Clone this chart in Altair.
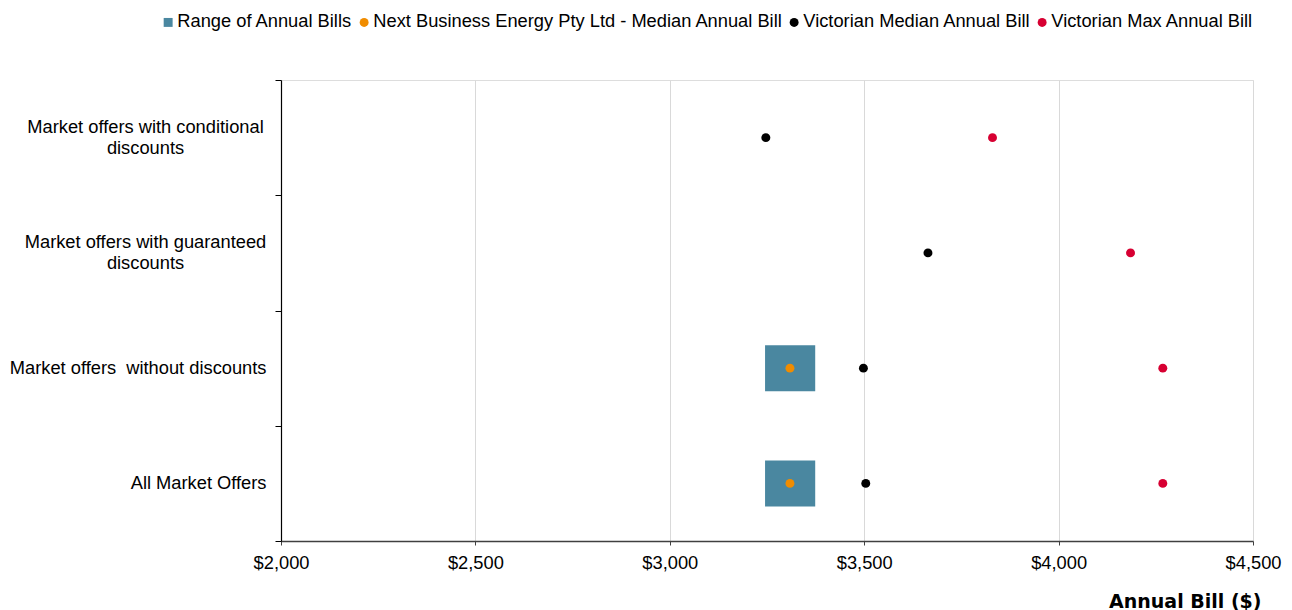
import altair as alt
import pandas as pd

# ---- data ----
categories = [
    "Market offers with conditional\ndiscounts",
    "Market offers with guaranteed\ndiscounts",
    "Market offers  without discounts",
    "All Market Offers",
]
range_low = [None, None, 3245, 3245]
range_high = [None, None, 3374, 3374]
next_median = [None, None, 3309, 3309]
vic_median = [3247, 3664, 3498, 3504]
vic_max = [3830, 4185, 4268, 4268]

series_names = [
    "Range of Annual Bills",
    "Next Business Energy Pty Ltd - Median Annual Bill",
    "Victorian Median Annual Bill",
    "Victorian Max Annual Bill",
]
series_colors = ["#4A87A0", "#F08C00", "#000000", "#D70032"]
series_shapes = ["square", "circle", "circle", "circle"]
x_ticks = [2000, 2500, 3000, 3500, 4000, 4500]

# ---- tables ----
bars = pd.DataFrame({"category": categories, "low": range_low, "high": range_high}).dropna()

rows = []
for name, vals in zip(series_names[1:], [next_median, vic_median, vic_max]):
    for c, v in zip(categories, vals):
        if v is not None:
            rows.append({"category": c, "series": name, "value": v})
points = pd.DataFrame(rows)

multi = "length(split(datum.value, '\\n')) > 1"

y_enc = alt.Y(
    "category:N",
    sort=categories,
    scale=alt.Scale(domain=categories, paddingInner=0, paddingOuter=0),
    axis=alt.Axis(
        title=None,
        grid=False,
        tickBand="extent",
        tickSize=6,
        tickColor="#000000",
        domainColor="#000000",
        domainWidth=1.2,
        labelFont="Liberation Sans",
        labelFontSize=18.3,
        labelColor="#000000",
        labelLineHeight=21,
        labelExpr="split(replace(datum.label, '  ', '\\u00a0 '), '\\n')",
        labelAlign={"condition": {"test": multi, "value": "center"}, "value": "right"},
        labelPadding={"condition": {"test": multi, "value": 130}, "value": 9},
        labelOffset={"condition": {"test": multi, "value": -10.5}, "value": 0},
        labelLimit=400,
    ),
)

x_scale = alt.Scale(domain=[2000, 4500], nice=False, zero=False)
x_axis = alt.Axis(
    title="Annual Bill ($)",
    values=x_ticks,
    format="$,.0f",
    grid=True,
    gridColor="#D9D9D9",
    gridWidth=1,
    tickSize=4,
    tickColor="#404040",
    domainColor="#404040",
    domainWidth=1.6,
    labelFont="Liberation Sans",
    labelFontSize=18.3,
    labelColor="#000000",
    labelPadding=9,
    labelFlush=False,
    titleFont="DejaVu Sans",
    titleFontSize=19,
    titleFontWeight="bold",
    titleColor="#000000",
    titleAlign="right",
    titleBaseline="alphabetic",
    titleX=980,
    titleY=66,
)

bar_layer = alt.Chart(bars).mark_bar(size=46, color="#4A87A0").encode(
    y=y_enc,
    x=alt.X("low:Q", scale=x_scale, axis=x_axis),
    x2="high:Q",
)

point_layer = alt.Chart(points).mark_point(filled=True, size=80, opacity=1, strokeWidth=0).encode(
    y=alt.Y("category:N", sort=categories),
    x=alt.X("value:Q", scale=x_scale),
    color=alt.Color(
        "series:N",
        scale=alt.Scale(domain=series_names, range=series_colors),
        legend=alt.Legend(
            title=None,
            orient="none",
            direction="horizontal",
            legendX=-122,
            legendY=-67,
            labelFont="Liberation Sans",
            labelFontSize=18.3,
            labelColor="#000000",
            symbolSize=80,
            symbolStrokeWidth=0,
            labelOffset=0,
            columnPadding=2,
            padding=0,
            labelLimit=600,
        ),
    ),
    shape=alt.Shape(
        "series:N",
        scale=alt.Scale(domain=series_names, range=series_shapes),
        legend=None,
    ),
)

chart = (
    alt.layer(bar_layer, point_layer)
    .properties(
        width=972,
        height=461,
        autosize=alt.AutoSizeParams(type="none"),
        padding={"left": 273, "top": 72, "right": 31, "bottom": 70},
    )
    .configure_view(stroke=None)
    .configure(background="#ffffff")
)

chart.save("out.html", embed_options={"renderer": "svg", "actions": False})
